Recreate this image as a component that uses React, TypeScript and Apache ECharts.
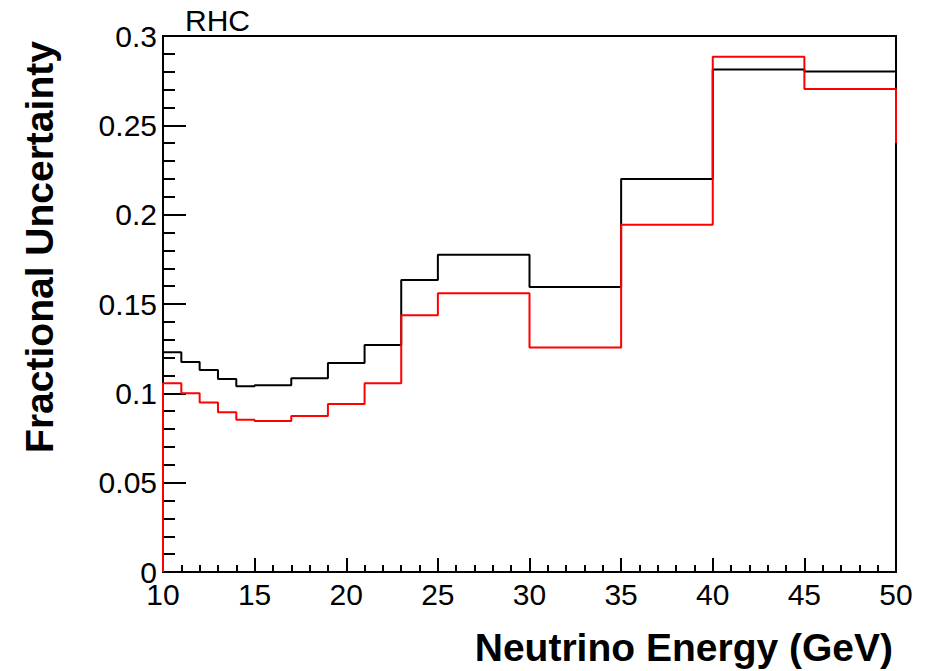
import React, { useEffect, useRef } from "react";
import * as echarts from "echarts";

const binEdges = [10, 11, 12, 13, 14, 15, 17, 19, 21, 23, 25, 30, 35, 40, 45, 50];
const blackValues = [0.123, 0.1175, 0.113, 0.108, 0.104, 0.1045, 0.1085, 0.117, 0.127, 0.1635, 0.1775, 0.1595, 0.22, 0.2813, 0.2802];
const redValues = [0.1056, 0.1, 0.0948, 0.0894, 0.0852, 0.0845, 0.0873, 0.094, 0.1056, 0.1437, 0.156, 0.1257, 0.1944, 0.2884, 0.2703];
const redEndValue = 0.24;
const blackEndValue = 0;
const xTicks = [10, 15, 20, 25, 30, 35, 40, 45, 50];
const yTicks = [0, 0.05, 0.1, 0.15, 0.2, 0.25, 0.3];

function histPoints(edges: number[], vals: number[], endVal: number) {
  const pts: number[][] = [[edges[0], 0]];
  vals.forEach((v, i) => {
    pts.push([edges[i], v]);
    pts.push([edges[i + 1], v]);
  });
  pts.push([edges[edges.length - 1], endVal]);
  return pts;
}

const FONT = "Liberation Sans, Arial, Helvetica, sans-serif";

export default function App() {
  const ref = useRef<HTMLDivElement>(null);
  useEffect(() => {
    if (!ref.current) return;
    const chart = echarts.init(ref.current, null, { renderer: "svg" });
    chart.setOption({
      animation: false,
      backgroundColor: "#ffffff",
      grid: {
        left: 163,
        right: 43,
        top: 36,
        bottom: 99,
        show: true,
        borderColor: "#000",
        borderWidth: 2,
        containLabel: false,
      },
      xAxis: {
        type: "value",
        min: xTicks[0],
        max: xTicks[xTicks.length - 1],
        interval: 5,
        axisLine: { show: true, onZero: false, lineStyle: { color: "#000", width: 2 } },
        axisTick: { show: true, inside: true, length: 14, lineStyle: { color: "#000", width: 2 } },
        minorTick: { show: true, splitNumber: 5, length: 7, lineStyle: { color: "#000", width: 2 } },
        splitLine: { show: false },
        axisLabel: {
          color: "#000",
          fontSize: 30,
          fontFamily: FONT,
          margin: 7,
          formatter: (v: number) => String(v),
        },
      },
      yAxis: {
        type: "value",
        min: yTicks[0],
        max: yTicks[yTicks.length - 1],
        interval: 0.05,
        axisLine: { show: true, lineStyle: { color: "#000", width: 2 } },
        axisTick: { show: true, inside: true, length: 23, lineStyle: { color: "#000", width: 2 } },
        minorTick: { show: true, splitNumber: 5, length: 12, lineStyle: { color: "#000", width: 2 } },
        splitLine: { show: false },
        axisLabel: {
          color: "#000",
          fontSize: 30,
          fontFamily: FONT,
          margin: 6,
          formatter: (v: number) => String(+v.toFixed(2)),
        },
      },
      graphic: [
        {
          type: "text",
          left: 185,
          top: 5,
          style: { text: "RHC", fontSize: 30, fontFamily: FONT, fill: "#000" },
        },
        {
          type: "text",
          x: 893,
          y: 647,
          style: {
            text: "Neutrino Energy (GeV)",
            fontSize: 39,
            fontWeight: "bold",
            fontFamily: FONT,
            fill: "#000",
            align: "right",
            verticalAlign: "middle",
          },
        },
        {
          type: "text",
          x: 39,
          y: 247,
          rotation: Math.PI / 2,
          style: {
            text: "Fractional Uncertainty",
            fontSize: 39,
            fontWeight: "bold",
            fontFamily: FONT,
            fill: "#000",
            align: "center",
            verticalAlign: "middle",
          },
        },
      ],
      series: [
        {
          type: "line",
          data: histPoints(binEdges, blackValues, blackEndValue),
          showSymbol: false,
          lineStyle: { color: "#000", width: 2 },
          z: 3,
        },
        {
          type: "line",
          data: histPoints(binEdges, redValues, redEndValue),
          showSymbol: false,
          lineStyle: { color: "#ff0000", width: 2 },
          z: 4,
        },
      ],
    });
    return () => chart.dispose();
  }, []);
  return (
    <div
      ref={ref}
      style={{ position: "fixed", left: 0, top: 0, width: 939, height: 671, background: "#fff" }}
    />
  );
}
